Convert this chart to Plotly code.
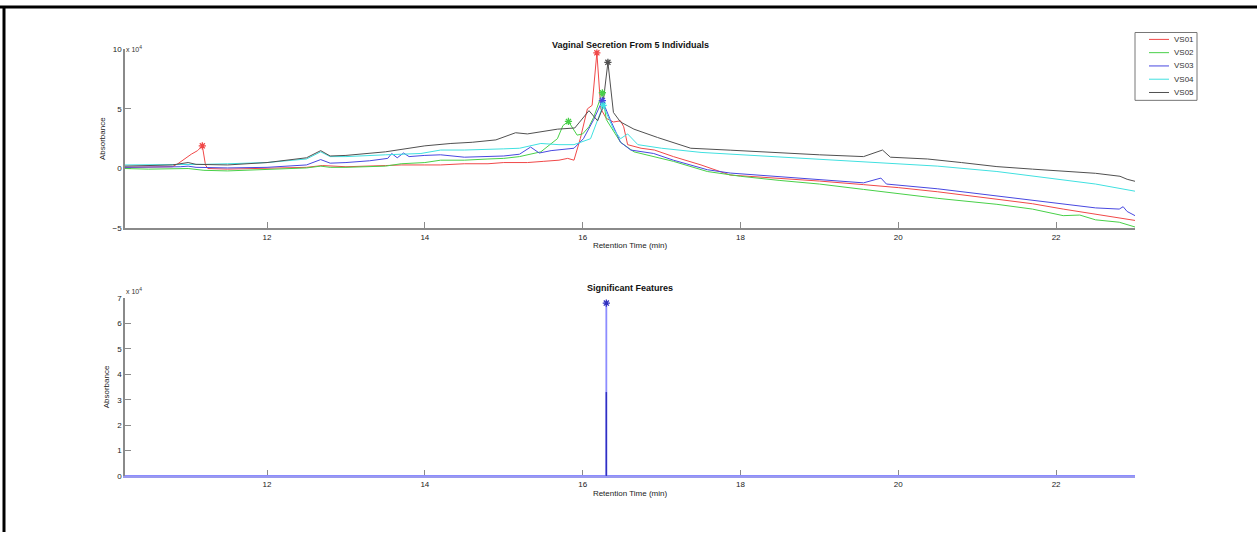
import plotly.graph_objects as go

# ---- data (absorbance in units of 1e4) ----
vs01_t = [10.2, 10.5, 10.8, 10.87, 10.95, 11.04, 11.12, 11.18, 11.22, 11.25, 11.5, 12.0, 12.5, 12.7, 12.8, 13.0, 13.5, 13.7, 14.0, 14.2, 14.5, 14.8, 15.0, 15.3, 15.5, 15.7, 15.81, 15.89, 15.97, 16.06, 16.12, 16.18, 16.23, 16.3, 16.39, 16.48, 16.52, 16.57, 16.74, 16.91, 17.15, 17.5, 17.87, 18.5, 19.0, 19.56, 20.0, 20.5, 21.25, 21.7, 22.09, 22.5, 23.0]
vs01_y = [0.1, 0.1, 0.15, 0.4, 0.8, 1.2, 1.5, 1.9, 0.3, 0.0, -0.05, 0.0, 0.1, 0.25, 0.2, 0.15, 0.25, 0.3, 0.3, 0.3, 0.4, 0.4, 0.5, 0.5, 0.6, 0.7, 0.85, 0.7, 2.5, 5.0, 5.3, 9.7, 5.0, 4.2, 3.9, 4.0, 3.5, 2.0, 1.7, 1.55, 1.0, 0.3, -0.55, -0.8, -1.05, -1.35, -1.6, -1.95, -2.6, -2.95, -3.4, -3.8, -4.35]

vs02_t = [10.2, 10.5, 11.0, 11.2, 11.5, 12.0, 12.5, 12.68, 12.8, 13.0, 13.5, 13.7, 14.0, 14.2, 14.5, 14.8, 15.0, 15.2, 15.47, 15.68, 15.75, 15.82, 15.93, 16.0, 16.08, 16.14, 16.25, 16.3, 16.4, 16.48, 16.65, 16.9, 17.15, 17.58, 18.0, 18.5, 19.0, 19.56, 20.0, 20.5, 21.25, 21.7, 22.09, 22.3, 22.5, 22.8, 23.0]
vs02_y = [0.0, -0.05, 0.0, -0.15, -0.2, -0.1, 0.05, 0.2, 0.1, 0.1, 0.2, 0.4, 0.5, 0.7, 0.7, 0.8, 0.85, 1.0, 1.4, 2.5, 3.6, 3.95, 2.8, 2.9, 3.5, 4.3, 6.35, 4.1, 3.0, 2.2, 1.4, 1.0, 0.6, -0.25, -0.65, -1.0, -1.3, -1.75, -2.1, -2.5, -3.0, -3.4, -3.95, -3.9, -4.3, -4.5, -4.9]

vs03_t = [10.2, 10.5, 10.9, 11.0, 11.1, 11.5, 12.0, 12.5, 12.68, 12.8, 13.0, 13.3, 13.53, 13.58, 13.65, 13.73, 13.8, 14.0, 14.2, 14.5, 14.8, 15.0, 15.2, 15.34, 15.45, 15.6, 15.89, 16.01, 16.14, 16.25, 16.35, 16.48, 16.61, 16.9, 17.15, 17.58, 17.87, 18.5, 19.0, 19.56, 19.78, 19.85, 20.5, 21.25, 22.09, 22.5, 22.8, 22.85, 22.9, 23.0]
vs03_y = [0.1, 0.1, 0.15, 0.2, 0.1, 0.05, 0.1, 0.3, 0.75, 0.45, 0.5, 0.65, 0.85, 1.26, 0.9, 1.3, 1.0, 1.1, 1.15, 0.95, 1.0, 1.05, 1.2, 1.8, 1.3, 1.5, 1.7, 2.5, 4.1, 5.7, 4.1, 2.2, 1.55, 1.26, 0.7, -0.1, -0.38, -0.7, -0.95, -1.2, -0.8, -1.3, -1.7, -2.3, -3.0, -3.3, -3.4, -3.2, -3.6, -3.95]

vs04_t = [10.2, 10.5, 11.0, 11.2, 11.5, 12.0, 12.5, 12.68, 12.8, 13.0, 13.5, 13.95, 14.2, 14.5, 15.0, 15.2, 15.47, 15.7, 15.89, 16.1, 16.26, 16.39, 16.48, 16.57, 16.7, 17.0, 17.5, 18.0, 18.5, 19.56, 20.0, 20.5, 21.25, 22.09, 22.5, 23.0]
vs04_y = [0.3, 0.3, 0.35, 0.35, 0.4, 0.5, 0.8, 1.4, 1.0, 1.0, 1.15, 1.26, 1.55, 1.55, 1.65, 1.7, 2.1, 2.0, 2.0, 2.5, 5.3, 3.3, 2.5, 2.9, 2.0, 1.7, 1.35, 1.15, 1.0, 0.58, 0.4, 0.2, -0.25, -0.93, -1.3, -1.9]

vs05_t = [10.2, 10.5, 10.8, 11.0, 11.1, 11.5, 12.0, 12.5, 12.68, 12.8, 13.0, 13.5, 14.0, 14.33, 14.6, 14.9, 15.15, 15.3, 15.5, 15.68, 15.9, 16.08, 16.19, 16.25, 16.32, 16.39, 16.48, 16.65, 16.95, 17.37, 17.87, 18.5, 19.0, 19.56, 19.8, 19.9, 20.37, 20.8, 21.25, 21.7, 22.09, 22.5, 22.81, 22.9, 23.0]
vs05_y = [0.2, 0.25, 0.3, 0.5, 0.35, 0.3, 0.5, 0.9, 1.5, 1.05, 1.1, 1.4, 1.9, 2.1, 2.2, 2.4, 3.0, 2.9, 3.1, 3.3, 3.4, 4.85, 4.0, 5.0, 8.9, 4.7, 3.9, 3.3, 2.6, 1.7, 1.54, 1.3, 1.15, 1.0, 1.55, 0.95, 0.8, 0.5, 0.16, -0.05, -0.25, -0.4, -0.65, -0.9, -1.07]

series_names = ["VS01", "VS02", "VS03", "VS04", "VS05"]
series_t = [vs01_t, vs02_t, vs03_t, vs04_t, vs05_t]
series_y = [vs01_y, vs02_y, vs03_y, vs04_y, vs05_y]
series_colors = ["#f04848", "#48d048", "#4848e0", "#40e0e0", "#505050"]

# detected peaks (marked with asterisks)
peak_t = [[11.18, 16.18], [15.82, 16.25], [16.25], [16.26], [16.32]]
peak_y = [[1.9, 9.7], [3.95, 6.35], [5.7], [5.3], [8.9]]

# significant features
time_range = [10.2, 23.0]
sig_time = 16.3
sig_peak = 6.8
sig_partial = 3.3

x_ticks = [12, 14, 16, 18, 20, 22]
top_y_ticks = [-5, 0, 5, 10]
bottom_y_ticks = [0, 1, 2, 3, 4, 5, 6, 7]

W, H = 1257, 537
L, R = 125, 1135
PW = R - L
FAM = "Liberation Sans, Arial, sans-serif"

def px(xp):
    return (xp - L) / PW

def py(yp):
    return 1 - yp / H

fig = go.Figure()

for name, t, y, c in zip(series_names, series_t, series_y, series_colors):
    fig.add_trace(go.Scatter(x=t, y=y, mode="lines", name=name, showlegend=False,
                             line=dict(color=c, width=1), xaxis="x", yaxis="y"))
for t, y, c in zip(peak_t, peak_y, series_colors):
    fig.add_trace(go.Scatter(x=t, y=y, mode="markers", showlegend=False,
                             marker=dict(symbol="asterisk-open", size=6, color=c,
                                         line=dict(color=c, width=1.3)),
                             xaxis="x", yaxis="y"))

# bottom panel: baseline + spike
fig.add_trace(go.Scatter(x=[time_range[0], sig_time, sig_time, sig_time, time_range[1]],
                         y=[0, 0, sig_peak, 0, 0], mode="lines", showlegend=False,
                         cliponaxis=False,
                         line=dict(color="#8c8cff", width=1.8), xaxis="x2", yaxis="y2"))
fig.add_trace(go.Scatter(x=[sig_time, sig_time], y=[0, sig_partial], mode="lines",
                         showlegend=False, line=dict(color="#3030c0", width=1.5),
                         xaxis="x2", yaxis="y2"))
fig.add_trace(go.Scatter(x=[sig_time], y=[sig_peak], mode="markers", showlegend=False,
                         marker=dict(symbol="asterisk-open", size=6, color="#3030c0",
                                     line=dict(color="#3030c0", width=1.3)),
                         xaxis="x2", yaxis="y2"))

font = dict(family=FAM, size=8, color="#222")
axis_common = dict(showline=True, linecolor="#8a8a8a", linewidth=1.5, ticks="inside",
                   ticklen=6, tickcolor="#8a8a8a", tickwidth=1, showgrid=False,
                   zeroline=False, mirror=False, tickfont=font, layer="below traces")

top_dom = [py(228), py(46)]
bot_dom = [py(480), py(299)]

annotations = [
    dict(text="<b>Vaginal Secretion From 5 Individuals</b>", x=px(630), xref="paper",
         y=py(35), yref="paper", showarrow=False, font=dict(family=FAM, size=9, color="#111")),
    dict(text="<b>Significant Features</b>", x=px(630), xref="paper",
         y=py(289), yref="paper", showarrow=False, font=dict(family=FAM, size=9, color="#111")),
    dict(text="x 10<sup>4</sup>", x=px(124), xref="paper", y=py(40), yref="paper",
         xanchor="left", showarrow=False, font=dict(family=FAM, size=7, color="#333")),
    dict(text="x 10<sup>4</sup>", x=px(124), xref="paper", y=py(292), yref="paper",
         xanchor="left", showarrow=False, font=dict(family=FAM, size=7, color="#333")),
]
shapes = [
    dict(type="line", xref="paper", yref="paper", x0=px(0), x1=px(W),
         y0=py(3), y1=py(3), line=dict(color="black", width=3)),
    dict(type="line", xref="paper", yref="paper", x0=px(4), x1=px(4),
         y0=py(H), y1=py(2), line=dict(color="black", width=3)),
    # legend box
    dict(type="rect", xref="paper", yref="paper", x0=px(1135), x1=px(1197),
         y0=py(98), y1=py(29), line=dict(color="#777", width=1), fillcolor="white"),
]
legend_rows = [36, 49.5, 63, 76.5, 90]
for name, c, yr in zip(series_names, series_colors, legend_rows):
    shapes.append(dict(type="line", xref="paper", yref="paper", x0=px(1149), x1=px(1169),
                       y0=py(yr), y1=py(yr), line=dict(color=c, width=1)))
    annotations.append(dict(text=name, x=px(1172), xref="paper", y=py(yr), yref="paper",
                            xanchor="left", yanchor="middle", showarrow=False,
                            font=dict(family=FAM, size=8, color="#333")))

fig.update_layout(
    width=W, height=H,
    margin=dict(l=L, r=W - R, t=0, b=0),
    paper_bgcolor="white", plot_bgcolor="white",
    font=font,
    showlegend=False,
    xaxis=dict(axis_common, domain=[0, 1], range=time_range, tickvals=x_ticks,
               anchor="y", title=dict(text="Retention Time (min)", font=font, standoff=2)),
    yaxis=dict(axis_common, domain=top_dom, range=[-5, 10], tickvals=top_y_ticks,
               anchor="x", title=dict(text="Absorbance", font=font, standoff=6)),
    xaxis2=dict(axis_common, domain=[0, 1], range=time_range, tickvals=x_ticks,
                anchor="y2", linecolor="#9a9aee",
                title=dict(text="Retention Time (min)", font=font, standoff=2)),
    yaxis2=dict(axis_common, domain=bot_dom, range=[0, 7], tickvals=bottom_y_ticks,
                anchor="x2", title=dict(text="Absorbance", font=font, standoff=6)),
    annotations=annotations,
    shapes=shapes,
)

fig.write_html("out.html", config={"displayModeBar": False},
               post_script="document.body.style.margin='0';document.body.style.overflow='hidden';")
